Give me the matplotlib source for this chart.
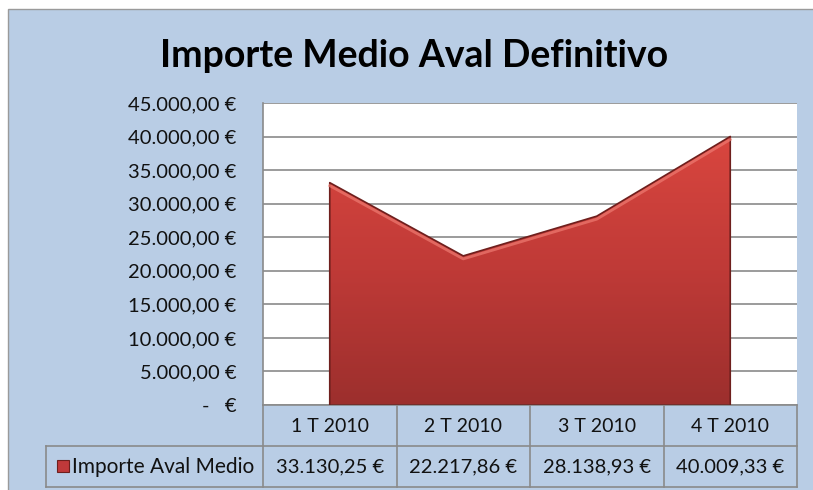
import numpy as np
import matplotlib.pyplot as plt
from matplotlib.patches import Rectangle
from matplotlib.colors import LinearSegmentedColormap

plt.rcParams['font.family'] = ['Lato', 'DejaVu Sans']

categories = ['1 T 2010', '2 T 2010', '3 T 2010', '4 T 2010']
values = [33130.25, 22217.86, 28138.93, 40009.33]
series_name = 'Importe Aval Medio'
yticks = [0, 5000, 10000, 15000, 20000, 25000, 30000, 35000, 40000, 45000]


def euro(v):
    if v == 0:
        return '-   €'
    s = f'{v:,.2f}'
    s = s.replace(',', 'X').replace('.', ',').replace('X', '.')
    return s + ' €'


bg = '#b9cde5'
grid_c = '#8a8a8a'
fig = plt.figure(figsize=(8.13, 4.90), dpi=100)
fig.patch.set_facecolor('white')
fig.patches.append(Rectangle((8 / 813, -0.01), 1.0, 1 - 9 / 490 + 0.01,
                             transform=fig.transFigure, facecolor=bg,
                             edgecolor='#9a9a9a', lw=1.0, zorder=-5))

# plot area in pixels: x 263..797, y 103..405
ax = fig.add_axes([263 / 813, 85 / 490, 534 / 813, 302 / 490])
ax.set_facecolor('white')
x = np.arange(len(categories)) + 0.5

# gradient filled area
poly = ax.fill_between(x, values, 0, facecolor='none', edgecolor='#6e1f1d', lw=1.2, zorder=3)
cmap = LinearSegmentedColormap.from_list('red', ['#9c2f2d', '#bf3a37', '#d9463f'])
grad = np.linspace(0, 1, 256).reshape(-1, 1)
im = ax.imshow(grad, cmap=cmap, origin='lower', aspect='auto',
               extent=[0, len(categories), 0, max(values)], zorder=2)
im.set_clip_path(poly.get_paths()[0], transform=ax.transData)
ax.plot(x, np.array(values) - 450, color='#ee7b72', lw=2.0, alpha=0.7, zorder=3)
ax.set_xlim(0, len(categories))
ax.set_ylim(0, 45000)

ax.set_yticks(yticks)
ax.set_yticklabels([euro(v) for v in yticks])
ax.set_xticks([])
ax.grid(axis='y', color=grid_c, lw=1.2)
ax.set_axisbelow(True)
ax.tick_params(axis='y', length=0, pad=19, labelsize=14.5, labelcolor='#111111')
for s in ['top', 'right', 'bottom']:
    ax.spines[s].set_visible(False)
ax.spines['left'].set_color(grid_c)
ax.spines['left'].set_linewidth(1.2)

# data table below the plot (pixel geometry converted to axes fractions)
def fx(px):
    return (px - 263) / 534


def fy(py):
    return (405 - py) / 302


col_edges = [263 + 133.5 * i for i in range(len(categories) + 1)]
line_kw = dict(color=grid_c, lw=1.2, transform=ax.transAxes, clip_on=False)
ax.plot([fx(263), fx(797)], [fy(405), fy(405)], **line_kw)
ax.plot([fx(46), fx(797)], [fy(446), fy(446)], **line_kw)
ax.plot([fx(46), fx(797)], [fy(487), fy(487)], **line_kw)
for e in col_edges:
    ax.plot([fx(e), fx(e)], [fy(405), fy(487)], **line_kw)
ax.plot([fx(46), fx(46)], [fy(446), fy(487)], **line_kw)

for i, c in enumerate(categories):
    cx = fx((col_edges[i] + col_edges[i + 1]) / 2)
    ax.text(cx, fy(426), c, ha='center', va='center', fontsize=14,
            transform=ax.transAxes, color='#111111')
    ax.text(cx, fy(467), euro(values[i]), ha='center', va='center', fontsize=14.5,
            transform=ax.transAxes, color='#111111')
ax.text(fx(72), fy(467), series_name, ha='left', va='center', fontsize=15,
        transform=ax.transAxes, color='#111111')

# legend key
fig.patches.append(Rectangle((57 / 813, 1 - 472 / 490), 12 / 813, 12 / 490,
                             transform=fig.transFigure, facecolor='#c0393a',
                             edgecolor='#6e1f1d', lw=0.8, zorder=5))

fig.text(0.509, 1 - 56 / 490, 'Importe Medio Aval Definitivo', ha='center', va='center',
         fontsize=27, fontweight='bold', color='black')

fig.savefig('out.png', dpi=100, facecolor=fig.get_facecolor())
